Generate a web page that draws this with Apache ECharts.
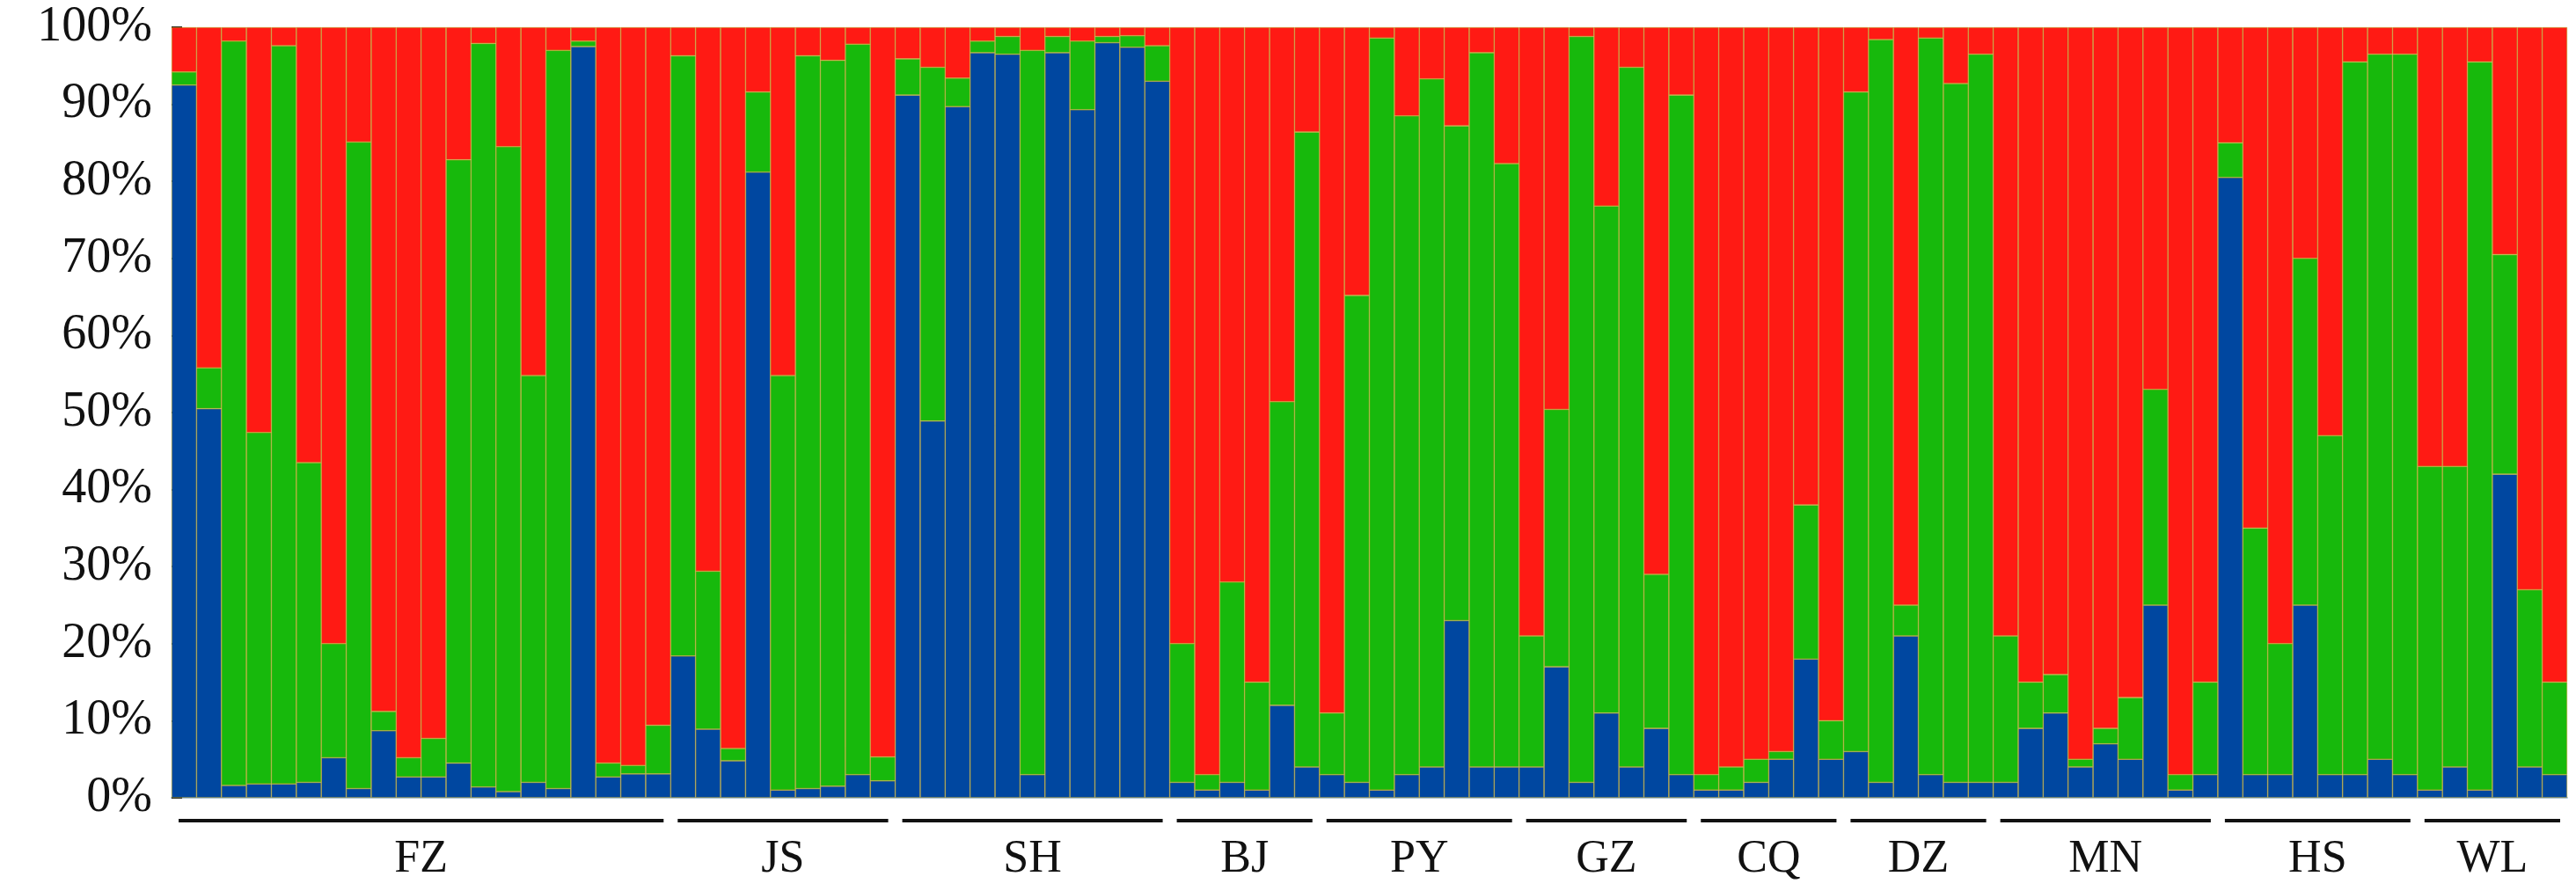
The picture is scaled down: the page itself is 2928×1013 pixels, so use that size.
<!DOCTYPE html>
<html>
<head>
<meta charset="utf-8">
<script src="https://cdn.jsdelivr.net/npm/echarts@6/dist/echarts.min.js"></script>
<style>
  html, body { margin: 0; padding: 0; background: #fff; }
  #chart { width: 2928px; height: 1013px; }
</style>
</head>
<body>
<div id="chart"></div>
<script>
// population groups: name and number of individuals
const groupNames = ['FZ', 'JS', 'SH', 'BJ', 'PY', 'GZ', 'CQ', 'DZ', 'MN', 'HS', 'WL']
const groupSizes = [20, 9, 11, 6, 8, 7, 6, 6, 9, 8, 6]

// blue cluster share per individual (%)
const blueShare = [
  92.5, 50.5, 1.6, 1.8, 1.8, 2, 5.2, 1.2, 8.7, 2.7, 2.7, 4.5, 1.4, 0.8, 2, 1.2, 97.5, 2.7, 3.1, 3.1,
  18.4, 8.9, 4.8, 81.2, 1, 1.2, 1.5, 3, 2.2,
  91.2, 48.9, 89.7, 96.7, 96.5, 3, 96.7, 89.3, 98, 97.4, 93,
  2, 1, 2, 1, 12, 4,
  3, 2, 1, 3, 4, 23, 4, 4,
  4, 17, 2, 11, 4, 9, 3,
  1, 1, 2, 5, 18, 5,
  6, 2, 21, 3, 2, 2,
  2, 9, 11, 4, 7, 5, 25, 1, 3,
  80.5, 3, 3, 25, 3, 3, 5, 3,
  1, 4, 1, 42, 4, 3
]
// top of green cluster (blue + green) per individual (%)
const greenTop = [
  94.2, 55.8, 98.2, 47.4, 97.6, 43.5, 20, 85.1, 11.2, 5.2, 7.7, 82.8, 97.9, 84.5, 54.8, 97, 98.2, 4.5, 4.2, 9.4,
  96.3, 29.4, 6.4, 91.6, 54.8, 96.3, 95.7, 97.8, 5.3,
  95.9, 94.8, 93.4, 98.2, 98.8, 97, 98.8, 98.2, 98.8, 98.9, 97.6,
  20, 3, 28, 15, 51.4, 86.4,
  11, 65.2, 98.6, 88.5, 93.3, 87.2, 96.7, 82.3,
  21, 50.4, 98.8, 76.8, 94.8, 29, 91.2,
  3, 4, 5, 6, 38, 10,
  91.6, 98.4, 25, 98.6, 92.7, 96.5,
  21, 15, 16, 5, 9, 13, 53, 3, 15,
  85, 35, 20, 70, 47, 95.5, 96.5, 96.5,
  43, 43, 95.5, 70.5, 27, 15
]
const yTicks = ['0%', '10%', '20%', '30%', '40%', '50%', '60%', '70%', '80%', '90%', '100%']

const individuals = blueShare.map((_, i) => i + 1)
const green = greenTop.map((t, i) => +(t - blueShare[i]).toFixed(2))
const red = greenTop.map(t => +(100 - t).toFixed(2))

// group spans [startIdx, endIdx, name]
const spans = []
let pos = 0
groupNames.forEach((name, i) => {
  spans.push([pos, pos + groupSizes[i] - 1, name])
  pos += groupSizes[i]
})

const chart = echarts.init(document.getElementById('chart'))
const barStyle = (color) => ({
  type: 'bar', stack: 'q', barWidth: '100%', barCategoryGap: 0,
  itemStyle: { color: color, borderColor: '#b9a020', borderWidth: 0.6 },
  emphasis: { disabled: true }, animation: false
})

chart.setOption({
  animation: false,
  grid: { left: 195, right: 10, top: 31, bottom: 106 },
  xAxis: {
    type: 'category', data: individuals,
    axisLine: { show: true, lineStyle: { color: '#a8c4e0', width: 2 } },
    axisTick: { show: false }, axisLabel: { show: false }
  },
  yAxis: {
    type: 'value', min: 0, max: 100, interval: 10,
    axisLine: { show: false },
    axisTick: { show: true, inside: true, length: 12, lineStyle: { color: '#1a1a1a', width: 2 } },
    splitLine: { show: false },
    axisLabel: {
      formatter: (v) => yTicks[Math.round(v / 10)],
      fontFamily: 'Liberation Serif', fontSize: 56, color: '#111', margin: 22
    }
  },
  series: [
    Object.assign(barStyle('#0047a0'), { name: 'K1', data: blueShare }),
    Object.assign(barStyle('#17b90c'), { name: 'K2', data: green }),
    Object.assign(barStyle('#ff1a14'), { name: 'K3', data: red }),
    {
      type: 'custom', clip: false, silent: true, z: 10,
      data: spans,
      renderItem: (params, api) => {
        const s = api.value(0), e = api.value(1)
        const bw = api.size([1, 0])[0]
        const p0 = api.coord([s, 0]), p1 = api.coord([e, 0])
        const x0 = p0[0] - bw / 2 + 8, x1 = p1[0] + bw / 2 - 8
        const y = p0[1] + 26
        return {
          type: 'group',
          children: [
            { type: 'line', shape: { x1: x0, y1: y, x2: x1, y2: y }, style: { stroke: '#111', lineWidth: 4 } },
            { type: 'text', style: {
                text: spans[params.dataIndex][2], x: (x0 + x1) / 2, y: y + 44,
                align: 'center', verticalAlign: 'middle',
                font: '52px "Liberation Serif"', fill: '#111' } }
          ]
        }
      }
    }
  ]
})
</script>
</body>
</html>
